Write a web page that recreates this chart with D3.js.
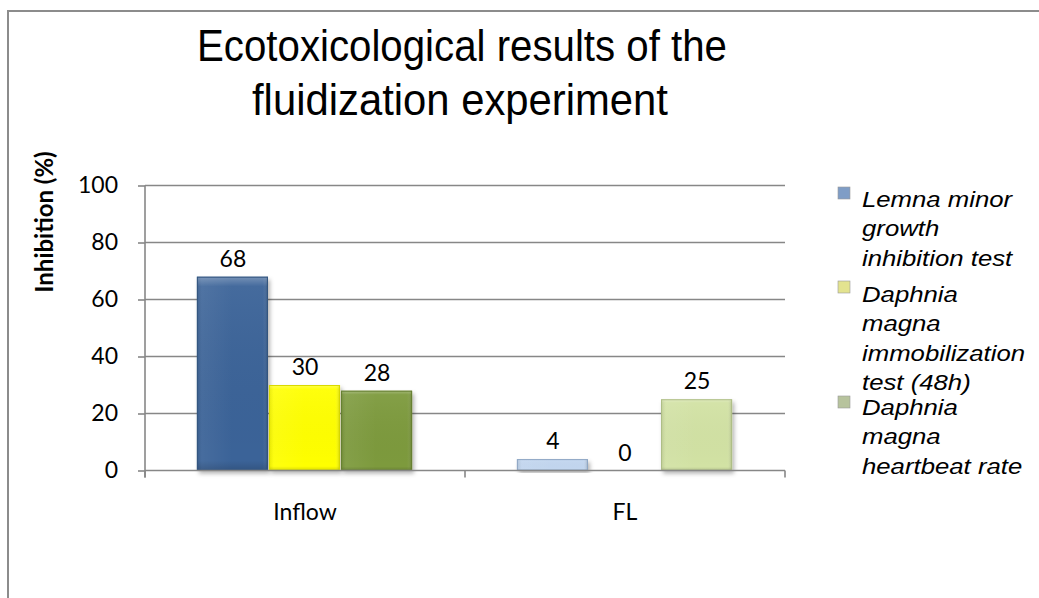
<!DOCTYPE html>
<html>
<head>
<meta charset="utf-8">
<title>Ecotoxicological results</title>
<script src="https://cdn.jsdelivr.net/npm/d3@7"></script>
<style>
  body { margin: 0; background: #fff; }
  svg { display: block; }
</style>
</head>
<body>
<script>
// Data
const categories = ["Inflow", "FL"];
const seriesNames = [
  ["Lemna minor", "growth", "inhibition test"],
  ["Daphnia", "magna", "immobilization", "test (48h)"],
  ["Daphnia", "magna", "heartbeat rate"]
];
const lemna = [68, 4];
const daphniaImmob = [30, 0];
const daphniaHeart = [28, 25];
const yTicks = [0, 20, 40, 60, 80, 100];

const allSeries = [lemna, daphniaImmob, daphniaHeart];
// colours per series: [Inflow, FL]
const barColors = [["#3a6498", "#c3d7f0"], ["#ffff00", "#ffff99"], ["#7d9a3e", "#d2e2a4"]];
const barEdges = [["#33557f", "#8ea6c4"], ["#d9d900", "#d9d980"], ["#667f32", "#aebd86"]];
const legendColors = ["#7f9dc6", "#e3e38f", "#b7c39d"];

const w = 1039, h = 598;
const svg = d3.select("body").append("svg").attr("width", w).attr("height", h);

const defs = svg.append("defs");
const sh = defs.append("filter").attr("id", "shadow").attr("x", "-20%").attr("y", "-20%").attr("width", "140%").attr("height", "140%");
sh.append("feDropShadow").attr("dx", 2).attr("dy", 3).attr("stdDeviation", 2).attr("flood-color", "#000").attr("flood-opacity", 0.3);
// bevel gradients
const gh = defs.append("linearGradient").attr("id", "bevelH");
gh.append("stop").attr("offset", "0%").attr("stop-color", "#000").attr("stop-opacity", 0.1);
gh.append("stop").attr("offset", "7%").attr("stop-color", "#fff").attr("stop-opacity", 0.06);
gh.append("stop").attr("offset", "50%").attr("stop-color", "#fff").attr("stop-opacity", 0);
gh.append("stop").attr("offset", "93%").attr("stop-color", "#fff").attr("stop-opacity", 0);
gh.append("stop").attr("offset", "100%").attr("stop-color", "#000").attr("stop-opacity", 0.18);
const gv = defs.append("linearGradient").attr("id", "bevelV").attr("x1", 0).attr("y1", 0).attr("x2", 0).attr("y2", 1);
gv.append("stop").attr("offset", "0%").attr("stop-color", "#fff").attr("stop-opacity", 0.3);
gv.append("stop").attr("offset", "5%").attr("stop-color", "#fff").attr("stop-opacity", 0.05);
gv.append("stop").attr("offset", "95%").attr("stop-color", "#000").attr("stop-opacity", 0);
gv.append("stop").attr("offset", "100%").attr("stop-color", "#000").attr("stop-opacity", 0.15);

// outer frame
svg.append("rect")
  .attr("x", 8).attr("y", 11).attr("width", 1100).attr("height", 700)
  .attr("fill", "none").attr("stroke", "#8c8c8c").attr("stroke-width", 2);

// title
const title = svg.append("text")
  .attr("font-family", "Liberation Sans, Arial, sans-serif")
  .attr("font-size", 44)
  .attr("text-anchor", "middle")
  .attr("fill", "#000");
title.append("tspan").attr("x", 462).attr("y", 61).attr("textLength", 530).attr("lengthAdjust", "spacingAndGlyphs").text("Ecotoxicological results of the");
title.append("tspan").attr("x", 460).attr("y", 115).attr("textLength", 416).attr("lengthAdjust", "spacingAndGlyphs").text("fluidization experiment");

// scales
const y = d3.scaleLinear().domain([0, 100]).range([470.5, 185.5]);
const x0 = d3.scaleBand().domain(categories).range([145, 785]).padding(0);
const x1 = d3.scaleBand().domain(d3.range(allSeries.length)).range([0, x0.bandwidth()]).paddingInner(0).paddingOuter(0.72);

// gridlines
svg.append("g").selectAll("line").data(yTicks.filter(d => d > 0)).join("line")
  .attr("x1", 145).attr("x2", 785)
  .attr("y1", d => y(d)).attr("y2", d => y(d))
  .attr("stroke", "#878787").attr("stroke-width", 1.6);

// y axis
const yAxis = svg.append("g").attr("transform", "translate(145,0)")
  .call(d3.axisLeft(y).tickValues(yTicks).tickSize(7).tickPadding(20));
yAxis.select(".domain").remove();
yAxis.selectAll(".tick line").attr("stroke", "#878787").attr("stroke-width", 1.6);
yAxis.selectAll(".tick text").attr("font-family", "Lato, sans-serif").attr("font-size", 23).attr("fill", "#000");
svg.append("line").attr("x1", 145).attr("x2", 145).attr("y1", y(100)).attr("y2", y(0) + 7)
  .attr("stroke", "#878787").attr("stroke-width", 1.6);

// bars
const groups = svg.append("g").selectAll("g").data(allSeries).join("g");
groups.selectAll("g.bar").data((s, si) => s.map((v, ci) => ({ v, si, ci }))).join("g")
  .attr("class", "bar")
  .each(function (d) {
    const g = d3.select(this);
    if (d.v <= 0) return;
    const bx = x0(categories[d.ci]) + x1(d.si);
    const bw = x1.bandwidth() - 1;
    const by = y(d.v), bh = y(0) - y(d.v);
    g.append("rect").attr("x", bx).attr("y", by).attr("width", bw).attr("height", bh)
      .attr("fill", barColors[d.si][d.ci]).attr("filter", "url(#shadow)");
    g.append("rect").attr("x", bx).attr("y", by).attr("width", bw).attr("height", bh)
      .attr("fill", "url(#bevelH)");
    g.append("rect").attr("x", bx).attr("y", by).attr("width", bw).attr("height", bh)
      .attr("fill", "url(#bevelV)");
    g.append("rect").attr("x", bx + 0.5).attr("y", by + 0.5).attr("width", bw - 1).attr("height", Math.max(0, bh - 1))
      .attr("fill", "none").attr("stroke", barEdges[d.si][d.ci]).attr("stroke-width", 1);
  });

// x axis
svg.append("line").attr("x1", 145).attr("x2", 785).attr("y1", y(0)).attr("y2", y(0))
  .attr("stroke", "#878787").attr("stroke-width", 1.6);
svg.append("g").selectAll("line").data(categories.concat(["end"])).join("line")
  .attr("x1", (d, i) => 145 + i * x0.bandwidth()).attr("x2", (d, i) => 145 + i * x0.bandwidth())
  .attr("y1", y(0)).attr("y2", y(0) + 7)
  .attr("stroke", "#878787").attr("stroke-width", 1.6);
svg.append("g").selectAll("text").data(categories).join("text")
  .attr("x", d => x0(d) + x0.bandwidth() / 2).attr("y", 520)
  .attr("text-anchor", "middle")
  .attr("font-family", "Lato, sans-serif").attr("font-size", 23)
  .text(d => d);

// value labels
svg.append("g").selectAll("g").data(allSeries).join("g")
  .selectAll("text").data((s, si) => s.map((v, ci) => ({ v, si, ci }))).join("text")
  .attr("x", d => x0(categories[d.ci]) + x1(d.si) + x1.bandwidth() / 2)
  .attr("y", d => y(d.v) - 10)
  .attr("text-anchor", "middle")
  .attr("font-family", "Lato, sans-serif").attr("font-size", 23)
  .text(d => d.v);

// y axis title
svg.append("text")
  .attr("transform", "translate(53,222) rotate(-90)")
  .attr("text-anchor", "middle")
  .attr("font-family", "Lato, sans-serif").attr("font-size", 24).attr("font-weight", "bold")
  .text("Inhibition (%)");

// legend
const legendTops = [187, 281, 396];
const legendBase = [20, 21, 19];
const leg = svg.append("g").selectAll("g").data(seriesNames).join("g")
  .attr("transform", (d, i) => `translate(838,${legendTops[i]})`);
leg.append("rect").attr("width", 12).attr("height", 12)
  .attr("fill", (d, i) => legendColors[i]).attr("stroke", "#999").attr("stroke-width", 0.6);
leg.append("text")
  .attr("transform", (d, i) => `translate(24,${legendBase[i]}) scale(1.17,1)`)
  .attr("font-family", "Liberation Sans, Arial, sans-serif").attr("font-size", 22).attr("font-style", "italic")
  .selectAll("tspan").data(d => d).join("tspan")
  .attr("x", 0).attr("y", (d, i) => i * 29.5)
  .text(d => d);
</script>
</body>
</html>
